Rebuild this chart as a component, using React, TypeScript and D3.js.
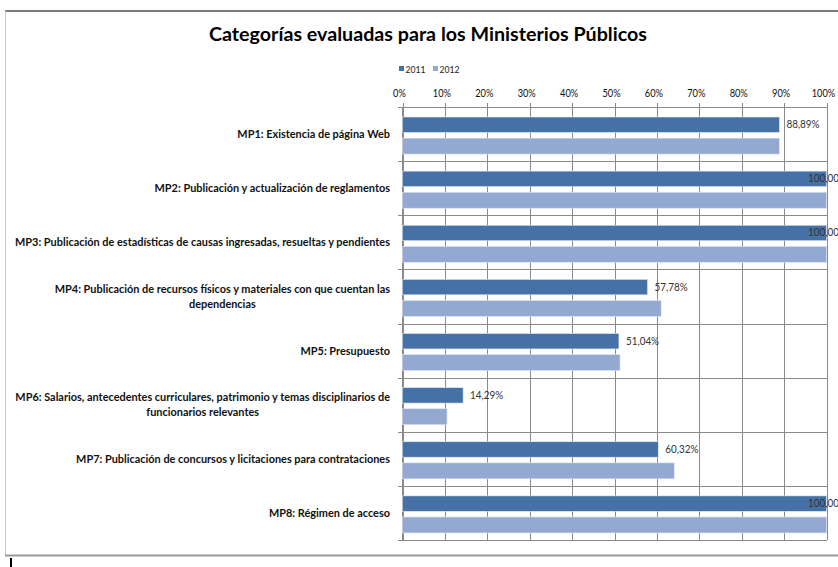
import React, { useEffect, useRef } from "react";
import * as d3 from "d3";

const title = "Categorías evaluadas para los Ministerios Públicos";
const categories = [
  "MP1: Existencia de página Web",
  "MP2: Publicación y actualización de reglamentos",
  "MP3: Publicación de estadísticas de causas ingresadas, resueltas y pendientes",
  "MP4: Publicación de recursos físicos y materiales con que cuentan las\ndependencias",
  "MP5: Presupuesto",
  "MP6: Salarios, antecedentes curriculares, patrimonio y temas disciplinarios de\nfuncionarios relevantes",
  "MP7: Publicación de concursos y licitaciones para contrataciones",
  "MP8: Régimen de acceso",
];
const seriesNames = ["2011", "2012"];
const values2011 = [88.89, 100, 100, 57.78, 51.04, 14.29, 60.32, 100];
const values2012 = [88.89, 100, 100, 61.0, 51.3, 10.5, 64.1, 100];
const ticks = [0, 10, 20, 30, 40, 50, 60, 70, 80, 90, 100];
const colors = ["#4571A6", "#94A9D1"];

const W = 838;
const H = 567;
const FONT = "Lato, 'Open Sans', sans-serif";

export default function App() {
  const ref = useRef<SVGSVGElement | null>(null);

  useEffect(() => {
    const svg = d3.select(ref.current);
    svg.selectAll("*").remove();

    svg.append("rect").attr("width", W).attr("height", H).attr("fill", "#fff");

    // outer frame
    svg.append("line").attr("x1", 5).attr("x2", W).attr("y1", 11).attr("y2", 11)
      .attr("stroke", "#7a7a7a").attr("stroke-width", 2);
    svg.append("line").attr("x1", 5.5).attr("x2", 5.5).attr("y1", 11).attr("y2", 555)
      .attr("stroke", "#c8c8c8").attr("stroke-width", 1);
    svg.append("line").attr("x1", 5).attr("x2", W).attr("y1", 555.5).attr("y2", 555.5)
      .attr("stroke", "#9a9a9a").attr("stroke-width", 2);
    svg.append("line").attr("x1", 11).attr("x2", 11).attr("y1", 558).attr("y2", H)
      .attr("stroke", "#000").attr("stroke-width", 2);

    const fit = (sel: any, target: number) => {
      sel.attr("textLength", target).attr("lengthAdjust", "spacingAndGlyphs");
    };

    // title
    const t = svg.append("text").attr("x", 428).attr("y", 41).attr("text-anchor", "middle")
      .attr("font-family", FONT).attr("font-weight", "bold").attr("font-size", 18)
      .attr("fill", "#000").text(title);
    fit(t, 438);

    const x = d3.scaleLinear().domain([0, 100]).range([402.5, 826.5]);
    const y = d3.scaleBand<string>().domain(categories).range([107, 540]).padding(0);
    const bw = y.bandwidth();

    // legend
    const lg = svg.append("g");
    seriesNames.forEach((s, i) => {
      const lx = 399 + i * 34;
      lg.append("rect").attr("x", lx).attr("y", 66).attr("width", 5).attr("height", 5).attr("fill", colors[i]);
      const tx = lg.append("text").attr("x", lx + 6.5).attr("y", 72.5).attr("font-family", FONT)
        .attr("font-size", 10).attr("fill", "#222").text(s);
      fit(tx, 20);
    });

    // vertical gridlines + ticks
    const grid = svg.append("g");
    ticks.forEach((tk) => {
      grid.append("line").attr("x1", Math.round(x(tk)) + 0.5).attr("x2", Math.round(x(tk)) + 0.5)
        .attr("y1", 103).attr("y2", 540).attr("stroke", "#8a8a8a").attr("stroke-width", 1);
      const lbl = grid.append("text").attr("x", x(tk) - 3).attr("y", 97).attr("text-anchor", "middle")
        .attr("font-family", FONT).attr("font-size", 10.5).attr("fill", "#111").text(`${tk}%`);
      const w = (lbl.node() as SVGTextElement).getComputedTextLength();
      lbl.attr("textLength", w * 0.88).attr("lengthAdjust", "spacingAndGlyphs");
    });

    // horizontal boundaries
    const bounds = categories.map((c) => y(c) as number).concat([540]);
    bounds.forEach((b) => {
      grid.append("line").attr("x1", 398).attr("x2", 827).attr("y1", Math.round(b) + 0.5).attr("y2", Math.round(b) + 0.5)
        .attr("stroke", "#8a8a8a").attr("stroke-width", 1);
    });
    grid.append("line").attr("x1", 402.5).attr("x2", 402.5).attr("y1", 107).attr("y2", 540)
      .attr("stroke", "#8a8a8a");

    // bars
    const series = [values2011, values2012];
    const offs = [0.185, 0.575];
    const hs = [0.285, 0.295];
    series.forEach((vals, si) => {
      svg.append("g").selectAll("rect").data(vals).join("rect")
        .attr("x", x(0))
        .attr("y", (_d, i) => (y(categories[i]) as number) + bw * offs[si])
        .attr("width", (d) => x(d) - x(0))
        .attr("height", bw * hs[si])
        .attr("fill", colors[si])
        .attr("stroke", "#dfe6f0").attr("stroke-width", 0.6);
    });

    // data labels for 2011
    values2011.forEach((v, i) => {
      const cy = (y(categories[i]) as number) + bw * (offs[0] + hs[0] / 2);
      const lx = Math.min(x(v) + 7, 808);
      const txt = v.toFixed(2).replace(".", ",") + "%";
      const l = svg.append("text").attr("x", lx).attr("y", cy + 3.5).attr("font-family", FONT)
        .attr("font-size", 11).attr("fill", "#333").text(txt);
      const w = (l.node() as SVGTextElement).getComputedTextLength();
      l.attr("textLength", w * 0.9).attr("lengthAdjust", "spacingAndGlyphs");
    });

    // category labels
    const cg = svg.append("g").attr("font-family", FONT).attr("font-weight", "bold")
      .attr("font-size", 11.5).attr("fill", "#111");
    const probe = cg.append("text").text(categories[2]);
    const probeW = (probe.node() as SVGTextElement).getComputedTextLength();
    probe.remove();
    const ratio = 375 / probeW;
    categories.forEach((c) => {
      const lines = c.split("\n");
      const cy = (y(c) as number) + bw / 2;
      const els = lines.map((ln) => cg.append("text").text(ln));
      const widths = els.map((e) => (e.node() as SVGTextElement).getComputedTextLength() * ratio);
      const maxW = Math.max(...widths);
      const cx = 390 - maxW / 2;
      const lh = 15;
      els.forEach((e, k) => {
        const yy = cy + (k - (lines.length - 1) / 2) * lh + 4;
        e.attr("x", cx).attr("y", yy).attr("text-anchor", "middle")
          .attr("textLength", widths[k]).attr("lengthAdjust", "spacingAndGlyphs");
      });
    });
  }, []);

  return (
    <svg
      ref={ref}
      width={W}
      height={H}
      style={{ position: "absolute", left: 0, top: 0, display: "block" }}
    />
  );
}
